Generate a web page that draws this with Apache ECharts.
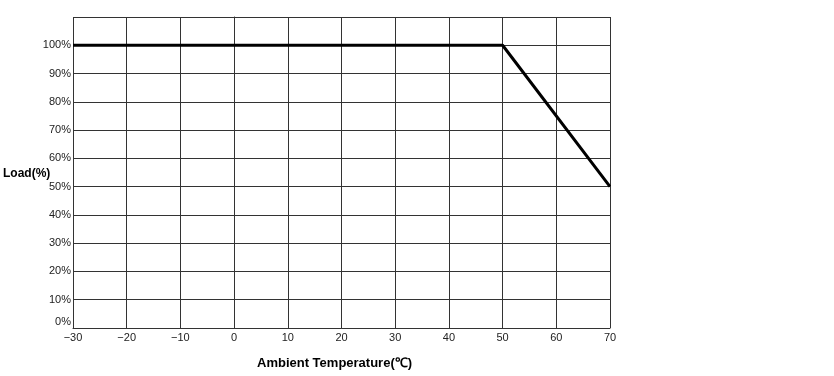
<!DOCTYPE html>
<html>
<head>
<meta charset="UTF-8">
<script src="https://cdn.jsdelivr.net/npm/echarts@6/dist/echarts.min.js"></script>
<style>
    html, body { margin: 0; padding: 0; background: #fff; }
    #chart { width: 834px; height: 376px; }
</style>
</head>
<body>
<div id="chart"></div>
<script>
    // derating curve
    let temps = [-30, 50, 70];
    let loads = [100, 100, 50];
    let yTicks = [0, 10, 20, 30, 40, 50, 60, 70, 80, 90, 100];

    let tickFont = "'Liberation Sans Narrow', 'Liberation Sans', sans-serif";
    let labelColor = '#222';

    let myChart = echarts.init(document.getElementById('chart'));
    let option = {
        animation: false,
        title: [{
            text: 'Load(%)',
            left: -2,
            top: 163,
            textStyle: { fontSize: 12, fontWeight: 'bold', color: '#000', fontFamily: 'Liberation Sans, sans-serif' }
        }, {
            text: 'Ambient Temperature(℃)',
            left: 252,
            top: 352,
            textStyle: { fontSize: 13, fontWeight: 'bold', color: '#000', fontFamily: 'Liberation Sans, sans-serif' }
        }],
        grid: {
            left: 73,
            right: 224,
            top: 17,
            bottom: 48
        },
        xAxis: {
            type: 'value',
            min: -30,
            max: 70,
            interval: 10,
            axisLine: { show: true, lineStyle: { color: '#333', width: 1 } },
            axisTick: { show: false },
            splitLine: { show: true, lineStyle: { color: '#333', width: 1 } },
            axisLabel: {
                color: labelColor,
                fontSize: 11,
                fontFamily: tickFont,
                margin: 4,
                formatter: function (v) { return v < 0 ? '\u2212' + Math.abs(v) : String(v); }
            }
        },
        yAxis: {
            type: 'value',
            min: 0,
            max: 110,
            interval: 10,
            axisLine: { show: true, lineStyle: { color: '#333', width: 1 } },
            axisTick: { show: false },
            splitLine: { show: true, lineStyle: { color: '#333', width: 1 } },
            axisLabel: {
                color: labelColor,
                fontSize: 11,
                fontFamily: tickFont,
                margin: 2,
                formatter: function (v) {
                    if (yTicks.indexOf(v) < 0) return '';
                    if (v === 0) return '{z|0%}';
                    return v + '%';
                },
                rich: {
                    z: { color: labelColor, fontSize: 11, fontFamily: tickFont, padding: [0, 0, 12, 0] }
                }
            }
        },
        series: [{
            type: 'line',
            data: temps.map(function (t, i) { return [t, loads[i]]; }),
            symbol: 'none',
            lineStyle: { color: '#000', width: 3 }
        }]
    };
    myChart.setOption(option);
</script>
</body>
</html>
